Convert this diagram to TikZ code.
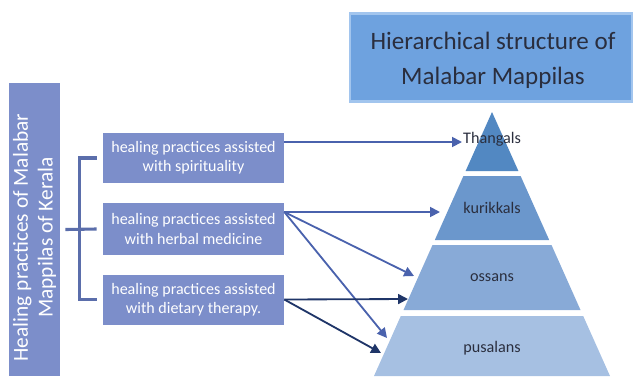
\documentclass[tikz,border=0pt]{standalone}
\usepackage{fontspec}
\setmainfont{Carlito}
\usepackage{xcolor}
\usepackage{tikz}
\usetikzlibrary{arrows.meta,positioning}

\definecolor{boxblue}{HTML}{7C8ECA}
\definecolor{bracketblue}{HTML}{5B6EAB}
\definecolor{titleblue}{HTML}{6EA2DF}
\definecolor{titleedge}{HTML}{A2C5EE}
\definecolor{tierA}{HTML}{5288C2}
\definecolor{tierB}{HTML}{6B97CC}
\definecolor{tierC}{HTML}{88AAD7}
\definecolor{tierD}{HTML}{A6C0E2}
\definecolor{arrowmid}{HTML}{4A62AD}
\definecolor{arrowdark}{HTML}{1F3568}
\definecolor{labelgray}{HTML}{2A2E3E}

\begin{document}
\begin{tikzpicture}[x=0.025cm,y=-0.025cm,
  practice/.style={fill=boxblue, text=white, align=center,
    minimum width=4.525cm, minimum height=1.25cm, inner sep=0pt,
    font=\fontsize{11.4}{13.6}\selectfont},
  tierlabel/.style={text=labelgray, font=\fontsize{11.5}{13}\selectfont, inner sep=1pt},
  bracket/.style={bracketblue, line width=2.2pt},
  link/.style={arrowmid, line width=1.3pt, -{Triangle[length=7pt,width=7pt]}},
  darklink/.style={arrowdark, line width=1.3pt, -{Triangle[length=7pt,width=7pt]}}]

\useasboundingbox (0,0) rectangle (636,376);

% title
\node[fill=titleblue, draw=titleedge, line width=1.5pt,
  minimum width=7.05cm, minimum height=2.2cm] (title) at (491,57.5) {};
\node[align=center, text=labelgray, font=\fontsize{17.8}{24.8}\selectfont]
  (titletext) at (493,60.5) {Hierarchical structure of\\Malabar Mappilas};

% left heading
\node[fill=boxblue, rotate=90, minimum width=7.3cm, minimum height=1.275cm,
  inner sep=0pt] (heal) at (34.5,229.5) {};
\node[text=white, rotate=90, align=center, inner sep=0pt,
  font=\fontsize{15.2}{17.7}\selectfont] (healtext) at (34.5,237.5)
  {Healing practices of Malabar\\Mappilas of Kerala};

% the three practices
\node[practice] (p1) at (193.5,158) {healing practices assisted\\with spirituality};
\node[practice, minimum height=1.3cm] (p2) at (193.5,229) {healing practices assisted\\with herbal medicine};
\node[practice] (p3) at (193.5,299.5) {healing practices assisted\\with dietary therapy.};

% bracket
\draw[bracket] ([xshift=-0.15cm]p1.west) -- ++(-17,0) |- ([xshift=-0.15cm]p3.west);
\draw[bracket] ([xshift=0.125cm]heal.south) -- ([xshift=-0.15cm]p2.west);

% pyramid
\fill[tierA] (492,112) -- (518.4,171) -- (465.6,171) -- cycle;
\fill[tierB] (463.4,176) -- (520.6,176) -- (549.2,240) -- (434.8,240) -- cycle;
\fill[tierC] (432.5,245) -- (551.5,245) -- (580.5,310) -- (403.5,310) -- cycle;
\fill[tierD] (400.8,316) -- (583.2,316) -- (610,376) -- (374,376) -- cycle;

\node[tierlabel] (thangals) at (492,139) {Thangals};
\node[tierlabel] (kurikkals) at (492,208) {kurikkals};
\node[tierlabel] (ossans) at (492,278) {ossans};
\node[tierlabel] (pusalans) at (492,348) {pusalans};

% arrow ends
\coordinate (tTip) at (462,142);
\coordinate (kTip) at (440,212);
\coordinate (oTipA) at (414,276);
\coordinate (oTipB) at (408,299);
\coordinate (pTipA) at (387,338);
\coordinate (pTipB) at (381,353);
\coordinate (p2out) at (p2.east |- kTip);

\draw[link] (p1.east |- tTip) -- (tTip);
\draw[link] (p2out) -- (kTip);
\draw[link] (p2out) -- (oTipA);
\draw[link] (p2out) -- (pTipA);
\draw[darklink] (p3.east) -- (oTipB);
\draw[darklink] (p3.east) -- (pTipB);

\end{tikzpicture}
\end{document}
